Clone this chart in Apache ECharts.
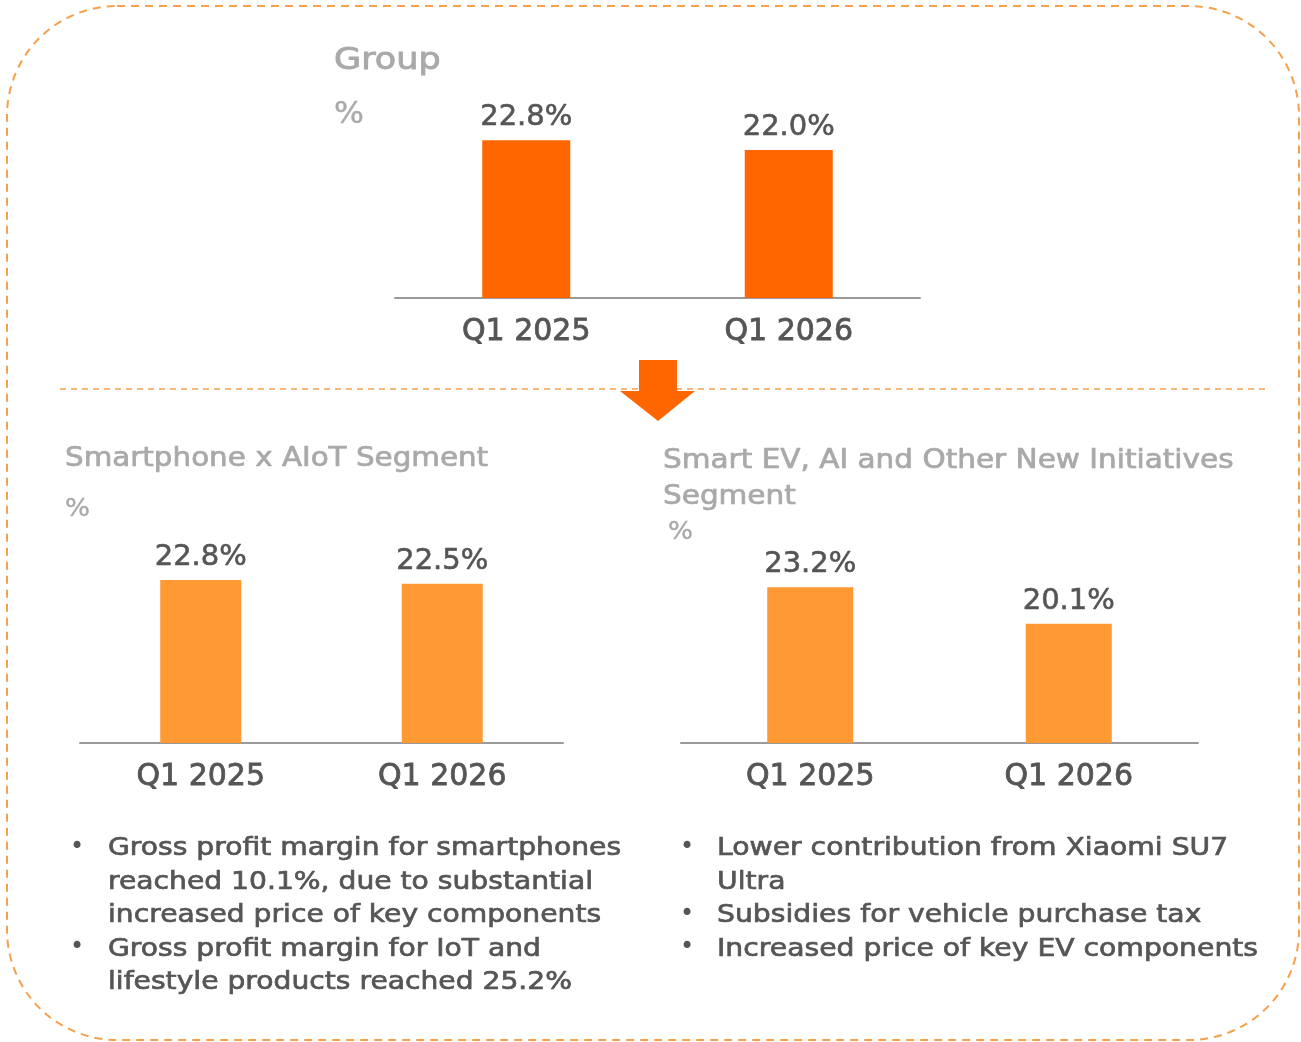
<!DOCTYPE html>
<html><head><meta charset="utf-8">
<script src="https://cdn.jsdelivr.net/npm/echarts@6/dist/echarts.min.js"></script>
<style>html,body{margin:0;padding:0;background:#fff}#c{width:1301px;height:1042px}</style>
</head><body><div id="c"></div>
<script>
const categories = ['Q1 2025', 'Q1 2026'];
const groupValues = [22.8, 22.0];
const phoneValues = [22.8, 22.5];
const evValues = [23.2, 20.1];
const groupTitle = 'Group';
const phoneTitle = 'Smartphone x AIoT Segment';
const evTitle = 'Smart EV, AI and Other New Initiatives\nSegment';
const unitLabel = '%';
const phoneNotes = ['Gross profit margin for smartphones\nreached 10.1%, due to substantial\nincreased price of key components', 'Gross profit margin for IoT and\nlifestyle products reached 25.2%'];
const evNotes = ['Lower contribution from Xiaomi SU7\nUltra', 'Subsidies for vehicle purchase tax', 'Increased price of key EV components'];

const FONT = '"DejaVu Sans"';
const DARK = '#555555';
const GREY = '#a9a9a9';
const chart = echarts.init(document.getElementById('c'), null, {renderer: 'canvas'});

function xAx(gi) {
  return {type: 'category', gridIndex: gi, data: categories,
    axisLine: {lineStyle: {color: '#9a9a9a', width: 2}}, axisTick: {show: false},
    axisLabel: {color: DARK, fontSize: 30, fontFamily: FONT, fontWeight: 'normal', margin: 19,
      textBorderColor: DARK, textBorderWidth: 0.8}};
}
function yAx(gi) {
  return {type: 'value', gridIndex: gi, min: 10, max: 25, show: false, splitLine: {show: false}};
}
function ser(gi, data, color, bw) {
  return {type: 'bar', xAxisIndex: gi, yAxisIndex: gi, data: data, barWidth: bw,
    itemStyle: {color: color},
    label: {show: true, position: 'top', distance: 8, color: DARK, fontSize: 29, fontFamily: FONT, fontWeight: 'normal',
      textBorderColor: DARK, textBorderWidth: 0.6,
      formatter: p => p.value.toFixed(1) + '%'}};
}
function txt(x, y, s, size, color, sx, lh, thick) {
  return {type: 'text', x: x, y: y, scaleX: sx, originX: 0, originY: 0,
    style: {text: s, fill: color, font: 'normal ' + size + 'px ' + FONT, lineHeight: lh || size * 1.2,
      verticalAlign: 'top', align: 'left', stroke: thick ? color : null, lineWidth: thick || 0}};
}

const graphics = [
  {type: 'rect', shape: {x: 7, y: 6, width: 1292, height: 1034, r: 110}, style: {fill: 'none', stroke: '#f5a04c', lineWidth: 2, lineDash: [8, 6]}, z: -1},
  {type: 'line', shape: {x1: 60, y1: 389, x2: 1270, y2: 389}, style: {stroke: '#f5a04c', lineWidth: 1.5, lineDash: [6, 5]}},
  {type: 'polygon', shape: {points: [[639, 360], [677, 360], [677, 391], [695, 391], [658, 421], [620, 391], [639, 391]]}, style: {fill: '#ff6600'}, z: 10},
  txt(334, 42, groupTitle, 31, GREY, 1.13, null, 0.9),
  txt(334, 97, unitLabel, 30, GREY, 1.05, null, 0.4),
  txt(65, 444, phoneTitle, 26, GREY, 1.13, null, 0.7),
  txt(65, 494, unitLabel, 25, GREY, 1.05, null, 0.4),
  txt(663, 443, evTitle, 26, GREY, 1.135, 36, 0.7),
  txt(668, 517, unitLabel, 25, GREY, 1.05, null, 0.4)
];
let y = 832;
phoneNotes.forEach(n => {
  graphics.push(txt(70, y - 1, '•', 24, DARK, 1, 33.5));
  graphics.push(txt(108, y, n, 25, DARK, 1.127, 33.5, 0.7));
  y += 33.5 * n.split('\n').length;
});
y = 832;
evNotes.forEach(n => {
  graphics.push(txt(680, y - 1, '•', 24, DARK, 1, 33.5));
  graphics.push(txt(717, y, n, 25, DARK, 1.13, 33.5, 0.7));
  y += 33.5 * n.split('\n').length;
});

chart.setOption({
  animation: false,
  backgroundColor: '#fff',
  grid: [
    {left: 395, width: 525, top: 113, height: 185},
    {left: 80, width: 483, top: 552, height: 191},
    {left: 681, width: 517, top: 566, height: 177}
  ],
  xAxis: [xAx(0), xAx(1), xAx(2)],
  yAxis: [yAx(0), yAx(1), yAx(2)],
  series: [ser(0, groupValues, '#ff6600', 88), ser(1, phoneValues, '#ff9933', 81), ser(2, evValues, '#ff9933', 86)],
  graphic: graphics
});
</script></body></html>
